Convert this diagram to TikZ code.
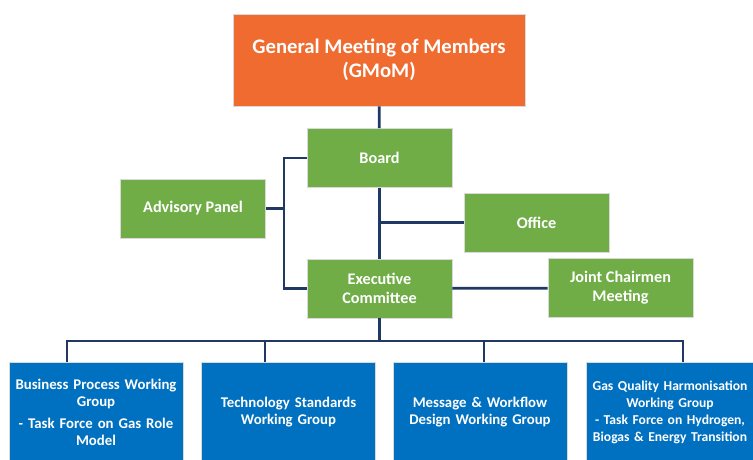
\documentclass[tikz,border=0pt]{standalone}
\usepackage{fontspec}
\setmainfont{Carlito}
\definecolor{gmomorange}{HTML}{EF6B2F}
\definecolor{boardgreen}{HTML}{70AD47}
\definecolor{groupblue}{HTML}{0070C0}
\definecolor{linknavy}{HTML}{1F3864}

\begin{document}
\begin{tikzpicture}[x=1pt,y=-1pt,
  box/.style={draw=white!70!gray,line width=0.6pt,text=white,align=center,inner sep=0pt},
  top/.style={box,fill=gmomorange,minimum width=292pt,minimum height=92pt,font=\bfseries\fontsize{20.7}{24}\selectfont},
  body/.style={box,fill=boardgreen,minimum width=145pt,minimum height=59pt,font=\bfseries\fontsize{16.2}{19}\selectfont},
  group/.style={box,fill=groupblue,minimum width=174pt,minimum height=100pt,text width=174pt,font=\bfseries\fontsize{14.8}{17}\selectfont},
  link/.style={draw=linknavy,line width=2.8pt}]
\useasboundingbox (0,0) rectangle (753,460);

\node[top] (gmom) at (379,60) {General Meeting of Members\\(GMoM)};
\node[body] (board) at (379.5,158) {Board};
\node[body] (advisory) at (193,208.5) {Advisory Panel};
\node[body] (office) at (536.5,222.5) {Office};
\node[body] (exec) at (379.5,288.5) {Executive\\Committee};
\node[body] (joint) at (620.5,288) {Joint Chairmen\\Meeting};
\node[group] (business) at (96,412) {Business Process Working\\Group\\[5pt]- Task Force on Gas Role\\Model};
\node[group] (technology) at (288.5,412) {Technology Standards\\Working Group};
\node[group] (message) at (480,412) {Message \& Workflow\\Design Working Group};
\node[group,minimum width=168pt,text width=168pt,font=\bfseries\fontsize{13.6}{17}\selectfont] (gasquality) at (670,412) {Gas Quality Harmonisation\\Working Group\\- Task Force on Hydrogen,\\Biogas \& Energy Transition};

\coordinate (spine) at (284,208.5);
\coordinate (bus) at (379.5,341);
\coordinate (drop1) at (67,341);
\coordinate (drop2) at (265,341);
\coordinate (drop3) at (484,341);
\coordinate (drop4) at (683,341);

\draw[link] (gmom) -- (board);
\draw[link] (board) -- (exec);
\draw[link] (office.west) -- (office.west -| board.south);
\draw[link] (board.west) -| (spine) |- (exec.west);
\draw[link] (advisory) -- (spine);
\draw[link] (exec) -- (joint);
\draw[link] (exec) -- (bus);
\draw[link] (drop1 |- business.north) -- (drop1) -- (drop4) -- (drop4 |- gasquality.north);
\draw[link] (drop2) -- (drop2 |- technology.north);
\draw[link] (drop3) -- (drop3 |- message.north);
\end{tikzpicture}
\end{document}
